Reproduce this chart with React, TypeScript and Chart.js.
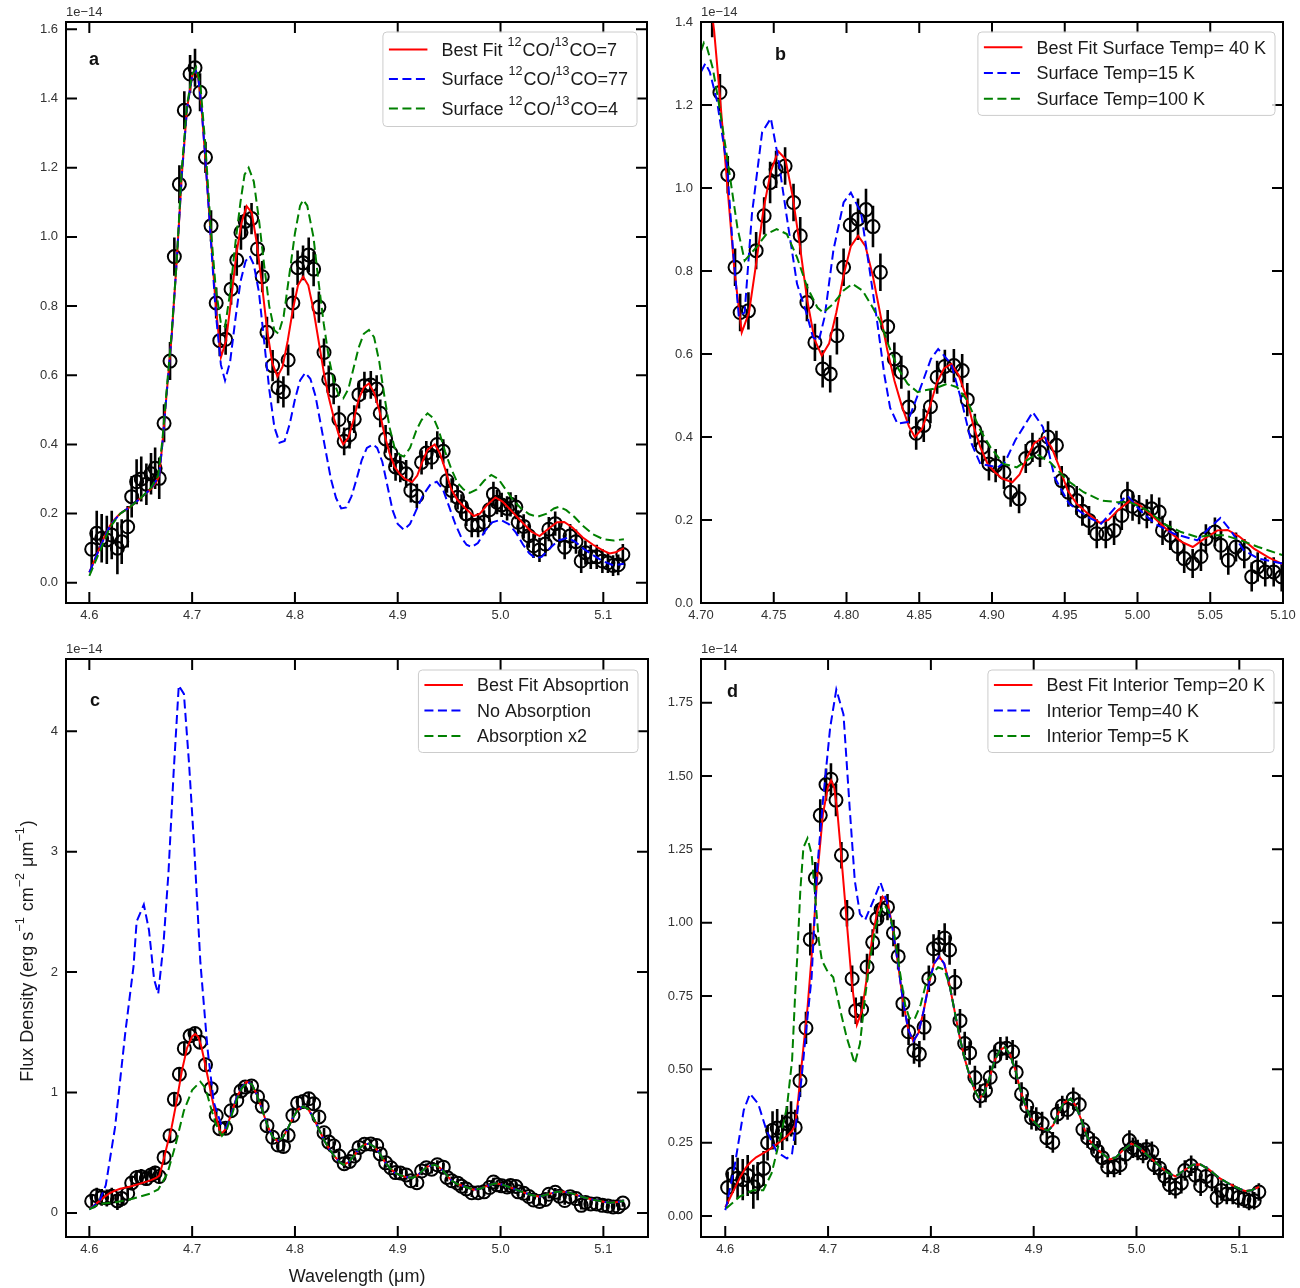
import React, { useEffect, useRef } from 'react';
import { Chart, registerables } from 'chart.js';

Chart.register(...registerables);

type Pt = [number, number];

// ---------------- observed spectrum (flux in 1e-14 erg s-1 cm-2 um-1) ----------------
const obsWave = [
  4.6023, 4.6072, 4.6120, 4.6170, 4.6218, 4.6273, 4.6315, 4.6373, 4.6412, 4.6460,
  4.6505, 4.6555, 4.6600, 4.6640, 4.6680, 4.6727, 4.6785, 4.6827, 4.6876, 4.6924,
  4.6980, 4.7028, 4.7077,
  4.7130, 4.7184, 4.7234, 4.7269, 4.7326, 4.7379, 4.7434, 4.7475, 4.7516, 4.7578,
  4.7636, 4.7682, 4.7728, 4.7783, 4.7836, 4.7888, 4.7934, 4.7980, 4.8026, 4.8079,
  4.8134, 4.8182, 4.8233, 4.8283, 4.8329, 4.8377, 4.8428, 4.8479, 4.8531, 4.8577,
  4.8623, 4.8676, 4.8738, 4.8795, 4.8830, 4.8882, 4.8933, 4.8979, 4.9025, 4.9082,
  4.9128, 4.9186, 4.9232, 4.9278, 4.9330, 4.9385, 4.9443, 4.9479, 4.9525, 4.9582,
  4.9621, 4.9667, 4.9720, 4.9782, 4.9839, 4.9892, 4.9931, 4.9966, 5.0011, 5.0064,
  5.0097, 5.0149, 5.0172, 5.0225, 5.0275, 5.0321, 5.0379, 5.0436, 5.0470, 5.0532,
  5.0573, 5.0624, 5.0677, 5.0734, 5.0785, 5.0826, 5.0878, 5.0936, 5.0991,
  5.1045, 5.1095, 5.1145, 5.1190,
];
const obsFlux = [
  0.097, 0.143, 0.129, 0.124, 0.138, 0.100, 0.119, 0.162, 0.249, 0.292,
  0.300, 0.285, 0.315, 0.331, 0.302, 0.461, 0.641, 0.943, 1.152, 1.366,
  1.471, 1.489, 1.418,
  1.230, 1.032, 0.809, 0.700, 0.704, 0.849, 0.933, 1.013, 1.045, 1.053,
  0.965, 0.885, 0.724, 0.628, 0.564, 0.552, 0.644, 0.809, 0.911, 0.925,
  0.948, 0.907, 0.797, 0.666, 0.588, 0.556, 0.472, 0.409, 0.428, 0.473,
  0.544, 0.570, 0.572, 0.560, 0.490, 0.416, 0.375, 0.335, 0.331, 0.315,
  0.267, 0.251, 0.348, 0.375, 0.363, 0.400, 0.380, 0.295, 0.267, 0.247,
  0.221, 0.199, 0.167, 0.167, 0.175, 0.211, 0.257, 0.233, 0.225, 0.215,
  0.227, 0.219, 0.175, 0.163, 0.136, 0.107, 0.095, 0.112, 0.155, 0.171,
  0.139, 0.103, 0.135, 0.119, 0.063, 0.087, 0.075, 0.075, 0.063,
  0.058, 0.050, 0.052, 0.082,
];
const obsErr = [
  0.055, 0.065, 0.070, 0.070, 0.070, 0.075, 0.065, 0.060, 0.060, 0.065,
  0.065, 0.060, 0.060, 0.060, 0.060, 0.055, 0.055, 0.055, 0.055, 0.055,
  0.055, 0.055, 0.055,
  0.045, 0.045, 0.045, 0.045, 0.045, 0.045, 0.045, 0.050, 0.045, 0.045,
  0.045, 0.045, 0.045, 0.045, 0.045, 0.045, 0.045, 0.045, 0.050, 0.050,
  0.050, 0.050, 0.045, 0.040, 0.040, 0.040, 0.040, 0.040, 0.040, 0.040,
  0.040, 0.040, 0.040, 0.040, 0.040, 0.040, 0.040, 0.040, 0.040, 0.040,
  0.035, 0.035, 0.035, 0.035, 0.035, 0.038, 0.035, 0.035, 0.035, 0.035,
  0.035, 0.035, 0.035, 0.035, 0.035, 0.035, 0.035, 0.035, 0.035, 0.035,
  0.035, 0.035, 0.035, 0.035, 0.035, 0.035, 0.035, 0.035, 0.035, 0.035,
  0.035, 0.035, 0.035, 0.035, 0.035, 0.035, 0.035, 0.035, 0.035,
  0.030, 0.030, 0.030, 0.030,
];

// ---------------- best-fit model (shown in all panels) ----------------
const bestFit: Pt[] = [
  [4.600, 0.030], [4.605, 0.065], [4.610, 0.100], [4.615, 0.135], [4.620, 0.165], [4.625, 0.185],
  [4.630, 0.200], [4.635, 0.210], [4.640, 0.220], [4.645, 0.232], [4.650, 0.245], [4.655, 0.258],
  [4.660, 0.272], [4.665, 0.290], [4.668, 0.310], [4.671, 0.400], [4.675, 0.540], [4.680, 0.710],
  [4.685, 0.930], [4.690, 1.180], [4.695, 1.370], [4.700, 1.465], [4.703, 1.485], [4.706, 1.460],
  [4.709, 1.380], [4.713, 1.220], [4.718, 1.010], [4.723, 0.800], [4.728, 0.652], [4.733, 0.700],
  [4.738, 0.820], [4.743, 0.950], [4.748, 1.040], [4.753, 1.089], [4.758, 1.070], [4.763, 0.980],
  [4.768, 0.860], [4.773, 0.730], [4.778, 0.635], [4.783, 0.596], [4.788, 0.625], [4.793, 0.700],
  [4.798, 0.790], [4.803, 0.860], [4.808, 0.885], [4.813, 0.860], [4.818, 0.790], [4.823, 0.700],
  [4.828, 0.610], [4.833, 0.535], [4.838, 0.475], [4.843, 0.425], [4.847, 0.400], [4.852, 0.420],
  [4.857, 0.470], [4.862, 0.530], [4.867, 0.565], [4.872, 0.576], [4.877, 0.550], [4.882, 0.500],
  [4.887, 0.430], [4.892, 0.375], [4.897, 0.335], [4.902, 0.315], [4.907, 0.300], [4.914, 0.291],
  [4.919, 0.310], [4.924, 0.350], [4.929, 0.385], [4.936, 0.400], [4.941, 0.375], [4.946, 0.330],
  [4.952, 0.271], [4.958, 0.240], [4.966, 0.215], [4.974, 0.193], [4.980, 0.200], [4.987, 0.225],
  [4.995, 0.247], [5.002, 0.235], [5.010, 0.210], [5.021, 0.175], [5.030, 0.148], [5.038, 0.135],
  [5.046, 0.155], [5.055, 0.175], [5.062, 0.176], [5.070, 0.160], [5.080, 0.131], [5.090, 0.110],
  [5.100, 0.093], [5.106, 0.085], [5.112, 0.088], [5.120, 0.100],
];

// ---------------- panel a: 12CO/13CO ratio ----------------
const aRatio77: Pt[] = [
  [4.600, 0.030], [4.610, 0.100], [4.620, 0.165], [4.630, 0.200], [4.640, 0.220], [4.650, 0.245],
  [4.660, 0.272], [4.668, 0.310], [4.671, 0.400], [4.675, 0.540], [4.680, 0.710], [4.685, 0.930],
  [4.690, 1.180], [4.695, 1.370], [4.700, 1.465], [4.703, 1.485], [4.706, 1.460], [4.709, 1.380],
  [4.713, 1.220], [4.718, 1.000], [4.723, 0.780], [4.728, 0.630], [4.732, 0.585], [4.737, 0.640],
  [4.742, 0.760], [4.747, 0.870], [4.752, 0.930], [4.756, 0.945], [4.760, 0.920], [4.765, 0.840],
  [4.770, 0.700], [4.775, 0.560], [4.780, 0.450], [4.785, 0.405], [4.790, 0.410], [4.795, 0.460],
  [4.800, 0.530], [4.805, 0.585], [4.810, 0.607], [4.815, 0.590], [4.820, 0.540], [4.825, 0.460],
  [4.830, 0.380], [4.835, 0.300], [4.840, 0.245], [4.845, 0.215], [4.850, 0.218], [4.855, 0.250],
  [4.860, 0.300], [4.865, 0.355], [4.870, 0.390], [4.876, 0.400], [4.880, 0.390], [4.885, 0.350],
  [4.890, 0.280], [4.895, 0.210], [4.900, 0.170], [4.906, 0.153], [4.912, 0.170], [4.918, 0.210],
  [4.925, 0.255], [4.932, 0.285], [4.938, 0.292], [4.944, 0.270], [4.950, 0.220], [4.956, 0.170],
  [4.962, 0.130], [4.967, 0.110], [4.972, 0.103], [4.978, 0.115], [4.985, 0.150], [4.992, 0.175],
  [5.000, 0.182], [5.008, 0.170], [5.015, 0.145], [5.022, 0.110], [5.028, 0.085], [5.034, 0.071],
  [5.040, 0.075], [5.048, 0.100], [5.056, 0.122], [5.065, 0.130], [5.072, 0.120], [5.080, 0.100],
  [5.090, 0.080], [5.100, 0.062], [5.110, 0.050], [5.120, 0.055],
];
const aRatio4: Pt[] = [
  [4.600, 0.020], [4.610, 0.090], [4.620, 0.160], [4.630, 0.200], [4.640, 0.220], [4.650, 0.245],
  [4.660, 0.275], [4.667, 0.310], [4.671, 0.410], [4.675, 0.550], [4.680, 0.720], [4.685, 0.930],
  [4.690, 1.200], [4.695, 1.380], [4.700, 1.470], [4.704, 1.490], [4.708, 1.440], [4.713, 1.260],
  [4.718, 1.030], [4.723, 0.850], [4.728, 0.750], [4.732, 0.740], [4.737, 0.840], [4.742, 0.980],
  [4.747, 1.100], [4.751, 1.180], [4.755, 1.200], [4.760, 1.160], [4.765, 1.050], [4.770, 0.920],
  [4.775, 0.800], [4.780, 0.730], [4.784, 0.720], [4.789, 0.770], [4.795, 0.900], [4.800, 1.010],
  [4.805, 1.090], [4.808, 1.107], [4.812, 1.090], [4.818, 1.000], [4.823, 0.870], [4.828, 0.750],
  [4.833, 0.650], [4.838, 0.580], [4.843, 0.540], [4.847, 0.533], [4.852, 0.560], [4.857, 0.620],
  [4.862, 0.680], [4.867, 0.720], [4.872, 0.731], [4.877, 0.710], [4.882, 0.640], [4.887, 0.540],
  [4.892, 0.450], [4.897, 0.390], [4.902, 0.370], [4.906, 0.365], [4.912, 0.390], [4.918, 0.440],
  [4.923, 0.470], [4.929, 0.490], [4.935, 0.475], [4.940, 0.440], [4.946, 0.380], [4.952, 0.330],
  [4.958, 0.290], [4.964, 0.270], [4.970, 0.260], [4.977, 0.270], [4.984, 0.295], [4.991, 0.312],
  [4.998, 0.300], [5.005, 0.270], [5.012, 0.240], [5.020, 0.215], [5.028, 0.198], [5.036, 0.191],
  [5.045, 0.200], [5.052, 0.215], [5.057, 0.220], [5.064, 0.210], [5.072, 0.190], [5.080, 0.165],
  [5.090, 0.140], [5.100, 0.126], [5.110, 0.122], [5.120, 0.126],
];

// ---------------- panel b: surface temperature ----------------
const bTemp15: Pt[] = [
  [4.700, 1.280], [4.703, 1.300], [4.706, 1.280], [4.711, 1.210], [4.718, 1.050], [4.722, 0.850],
  [4.726, 0.690], [4.730, 0.700], [4.735, 0.937], [4.742, 1.134], [4.748, 1.168], [4.753, 1.073],
  [4.759, 0.929], [4.766, 0.769], [4.772, 0.704], [4.777, 0.640], [4.781, 0.632], [4.785, 0.690],
  [4.791, 0.850], [4.798, 0.965], [4.803, 0.989], [4.810, 0.940], [4.816, 0.800], [4.821, 0.680],
  [4.826, 0.550], [4.830, 0.470], [4.835, 0.432], [4.842, 0.436], [4.851, 0.520], [4.858, 0.588],
  [4.863, 0.612], [4.872, 0.576], [4.879, 0.488], [4.886, 0.384], [4.892, 0.335], [4.904, 0.327],
  [4.909, 0.340], [4.916, 0.392], [4.928, 0.460], [4.935, 0.424], [4.943, 0.303], [4.953, 0.239],
  [4.966, 0.207], [4.975, 0.191], [4.989, 0.247], [4.993, 0.259], [5.002, 0.223], [5.012, 0.191],
  [5.025, 0.167], [5.041, 0.151], [5.050, 0.183], [5.057, 0.205], [5.064, 0.175], [5.073, 0.127],
  [5.083, 0.107], [5.100, 0.095],
];
const bTemp100: Pt[] = [
  [4.700, 1.330], [4.702, 1.350], [4.704, 1.340], [4.708, 1.290], [4.712, 1.210], [4.718, 1.073],
  [4.725, 0.905], [4.730, 0.825], [4.738, 0.857], [4.745, 0.889], [4.752, 0.901], [4.759, 0.889],
  [4.766, 0.833], [4.773, 0.761], [4.780, 0.712], [4.784, 0.700], [4.791, 0.721], [4.798, 0.753],
  [4.804, 0.769], [4.811, 0.753], [4.818, 0.712], [4.823, 0.680], [4.829, 0.620], [4.835, 0.568],
  [4.842, 0.528], [4.849, 0.508], [4.853, 0.512], [4.860, 0.516], [4.869, 0.528], [4.876, 0.520],
  [4.883, 0.488], [4.892, 0.416], [4.899, 0.375], [4.908, 0.335], [4.917, 0.327], [4.927, 0.351],
  [4.931, 0.358], [4.940, 0.339], [4.952, 0.295], [4.963, 0.267], [4.975, 0.247], [4.986, 0.243],
  [4.995, 0.243], [5.007, 0.223], [5.018, 0.191], [5.030, 0.171], [5.041, 0.159], [5.050, 0.163],
  [5.060, 0.163], [5.071, 0.151], [5.083, 0.135], [5.100, 0.115],
];

// ---------------- panel c: absorption ----------------
const cNoAbsorption: Pt[] = [
  [4.600, 0.030], [4.602, 0.041], [4.610, 0.100], [4.616, 0.230], [4.625, 0.710], [4.635, 1.500],
  [4.643, 2.050], [4.646, 2.420], [4.653, 2.560], [4.658, 2.350], [4.663, 1.940], [4.667, 1.820],
  [4.672, 2.220], [4.677, 2.830], [4.682, 3.660], [4.687, 4.380], [4.692, 4.310], [4.697, 3.730],
  [4.702, 3.040], [4.708, 2.080], [4.715, 1.360], [4.721, 0.920], [4.728, 0.740], [4.733, 0.705],
  [4.738, 0.820], [4.743, 0.950], [4.748, 1.040], [4.753, 1.089], [4.758, 1.070], [4.763, 0.980],
  [4.768, 0.860], [4.773, 0.730], [4.778, 0.635], [4.783, 0.596], [4.788, 0.625], [4.793, 0.700],
  [4.798, 0.790], [4.803, 0.860], [4.808, 0.885], [4.813, 0.860], [4.818, 0.790], [4.823, 0.700],
  [4.828, 0.610], [4.833, 0.535], [4.838, 0.475], [4.843, 0.425], [4.847, 0.400], [4.852, 0.420],
  [4.857, 0.470], [4.862, 0.530], [4.867, 0.565], [4.872, 0.576], [4.877, 0.550], [4.882, 0.500],
  [4.887, 0.430], [4.892, 0.375], [4.897, 0.335], [4.902, 0.315], [4.907, 0.300], [4.914, 0.291],
  [4.919, 0.310], [4.924, 0.350], [4.929, 0.385], [4.936, 0.400], [4.941, 0.375], [4.946, 0.330],
  [4.952, 0.271], [4.958, 0.240], [4.966, 0.215], [4.974, 0.193], [4.980, 0.200], [4.987, 0.225],
  [4.995, 0.247], [5.002, 0.235], [5.010, 0.210], [5.021, 0.175], [5.030, 0.148], [5.038, 0.135],
  [5.046, 0.155], [5.055, 0.175], [5.062, 0.176], [5.070, 0.160], [5.080, 0.131], [5.090, 0.110],
  [5.100, 0.093], [5.106, 0.085], [5.112, 0.088], [5.120, 0.100],
];
const cAbsorptionX2: Pt[] = [
  [4.600, 0.030], [4.610, 0.075], [4.627, 0.090], [4.643, 0.120], [4.659, 0.160], [4.667, 0.195],
  [4.676, 0.330], [4.684, 0.570], [4.692, 0.850], [4.700, 1.020], [4.708, 1.090], [4.713, 1.035],
  [4.718, 0.880], [4.723, 0.740], [4.729, 0.640], [4.734, 0.700], [4.738, 0.800], [4.743, 0.930],
  [4.748, 1.030], [4.753, 1.080], [4.758, 1.070], [4.763, 0.980], [4.768, 0.860], [4.773, 0.730],
  [4.778, 0.635], [4.783, 0.596], [4.788, 0.625], [4.793, 0.700], [4.798, 0.790], [4.803, 0.860],
  [4.808, 0.885], [4.813, 0.860], [4.818, 0.790], [4.823, 0.700], [4.828, 0.610], [4.833, 0.535],
  [4.838, 0.475], [4.843, 0.425], [4.847, 0.400], [4.852, 0.420], [4.857, 0.470], [4.862, 0.530],
  [4.867, 0.565], [4.872, 0.576], [4.877, 0.550], [4.882, 0.500], [4.887, 0.430], [4.892, 0.375],
  [4.897, 0.335], [4.902, 0.315], [4.907, 0.300], [4.914, 0.291], [4.919, 0.310], [4.924, 0.350],
  [4.929, 0.385], [4.936, 0.400], [4.941, 0.375], [4.946, 0.330], [4.952, 0.271], [4.958, 0.240],
  [4.966, 0.215], [4.974, 0.193], [4.980, 0.200], [4.987, 0.225], [4.995, 0.247], [5.002, 0.235],
  [5.010, 0.210], [5.021, 0.175], [5.030, 0.148], [5.038, 0.135], [5.046, 0.155], [5.055, 0.175],
  [5.062, 0.176], [5.070, 0.160], [5.080, 0.131], [5.090, 0.110], [5.100, 0.093], [5.106, 0.085],
  [5.112, 0.088], [5.120, 0.100],
];

// ---------------- panel d: interior temperature ----------------
const dInterior40: Pt[] = [
  [4.600, 0.020], [4.601, 0.032], [4.609, 0.168], [4.618, 0.361], [4.624, 0.417], [4.632, 0.383],
  [4.640, 0.293], [4.650, 0.219], [4.660, 0.196], [4.665, 0.213], [4.670, 0.349], [4.674, 0.463],
  [4.679, 0.644], [4.684, 0.814], [4.689, 1.166], [4.695, 1.415], [4.702, 1.664], [4.708, 1.795],
  [4.715, 1.710], [4.721, 1.392], [4.726, 1.143], [4.731, 1.030], [4.736, 1.009], [4.744, 1.075],
  [4.751, 1.137], [4.757, 1.075], [4.763, 0.973], [4.768, 0.860], [4.773, 0.730], [4.778, 0.635],
  [4.783, 0.596], [4.788, 0.625], [4.793, 0.700], [4.798, 0.790], [4.803, 0.860], [4.808, 0.885],
  [4.813, 0.860], [4.818, 0.790], [4.823, 0.700], [4.828, 0.610], [4.833, 0.535], [4.838, 0.475],
  [4.843, 0.425], [4.847, 0.400], [4.852, 0.420], [4.857, 0.470], [4.862, 0.530], [4.867, 0.565],
  [4.872, 0.576], [4.877, 0.550], [4.882, 0.500], [4.887, 0.430], [4.892, 0.375], [4.897, 0.335],
  [4.902, 0.315], [4.907, 0.300], [4.914, 0.291], [4.919, 0.310], [4.924, 0.350], [4.929, 0.385],
  [4.936, 0.400], [4.941, 0.375], [4.946, 0.330], [4.952, 0.271], [4.958, 0.240], [4.966, 0.215],
  [4.974, 0.193], [4.980, 0.200], [4.987, 0.225], [4.995, 0.247], [5.002, 0.235], [5.010, 0.210],
  [5.021, 0.175], [5.030, 0.148], [5.038, 0.135], [5.046, 0.155], [5.055, 0.175], [5.062, 0.176],
  [5.070, 0.160], [5.080, 0.131], [5.090, 0.110], [5.100, 0.093], [5.106, 0.085], [5.112, 0.088],
  [5.120, 0.100],
];
const dInterior5: Pt[] = [
  [4.601, 0.026], [4.614, 0.066], [4.627, 0.088], [4.637, 0.088], [4.645, 0.145], [4.653, 0.259],
  [4.660, 0.372], [4.665, 0.531], [4.668, 0.757], [4.670, 0.882], [4.673, 1.109], [4.676, 1.256],
  [4.680, 1.288], [4.684, 1.234], [4.687, 1.109], [4.691, 0.939], [4.694, 0.871], [4.699, 0.837],
  [4.705, 0.814], [4.712, 0.700], [4.718, 0.610], [4.726, 0.519], [4.731, 0.587], [4.736, 0.746],
  [4.741, 0.880], [4.746, 0.980], [4.751, 1.040], [4.755, 1.060], [4.760, 1.030], [4.765, 0.950],
  [4.770, 0.830], [4.775, 0.720], [4.779, 0.675], [4.784, 0.670], [4.790, 0.720], [4.796, 0.803],
  [4.807, 0.848], [4.813, 0.840], [4.818, 0.790], [4.823, 0.700], [4.828, 0.610], [4.833, 0.535],
  [4.838, 0.475], [4.843, 0.425], [4.847, 0.400], [4.852, 0.420], [4.857, 0.470], [4.862, 0.530],
  [4.867, 0.565], [4.872, 0.576], [4.877, 0.550], [4.882, 0.500], [4.887, 0.430], [4.892, 0.375],
  [4.897, 0.335], [4.902, 0.315], [4.907, 0.300], [4.914, 0.291], [4.919, 0.310], [4.924, 0.350],
  [4.929, 0.385], [4.936, 0.400], [4.941, 0.375], [4.946, 0.330], [4.952, 0.271], [4.958, 0.240],
  [4.966, 0.215], [4.974, 0.193], [4.980, 0.200], [4.987, 0.225], [4.995, 0.247], [5.002, 0.235],
  [5.010, 0.210], [5.021, 0.175], [5.030, 0.148], [5.038, 0.135], [5.046, 0.155], [5.055, 0.175],
  [5.062, 0.176], [5.070, 0.160], [5.080, 0.131], [5.090, 0.110], [5.100, 0.093], [5.106, 0.085],
  [5.112, 0.088], [5.120, 0.100],
];

// ---------------- tick labels ----------------
const xTicksWide = [4.6, 4.7, 4.8, 4.9, 5.0, 5.1];
const xTicksB = [4.70, 4.75, 4.80, 4.85, 4.90, 4.95, 5.00, 5.05, 5.10];
const yTicksA = [0, 0.2, 0.4, 0.6, 0.8, 1.0, 1.2, 1.4, 1.6];
const yTicksB = [0, 0.2, 0.4, 0.6, 0.8, 1.0, 1.2, 1.4];
const yTicksC = [0, 1, 2, 3, 4];
const yTicksD = [0, 0.25, 0.5, 0.75, 1.0, 1.25, 1.5, 1.75];

const legendA = ['Best Fit ¹²CO/¹³CO=7', 'Surface ¹²CO/¹³CO=77', 'Surface ¹²CO/¹³CO=4'];
const legendB = ['Best Fit Surface Temp= 40 K', 'Surface Temp=15 K', 'Surface Temp=100 K'];
const legendC = ['Best Fit Absoprtion', 'No Absorption', 'Absorption x2'];
const legendD = ['Best Fit Interior Temp=20 K', 'Interior Temp=40 K', 'Interior Temp=5 K'];

const xAxisTitle = 'Wavelength (μm)';
const yAxisTitle = 'Flux Density (erg s⁻¹ cm⁻² μm⁻¹)';

// ---------------- rendering helpers ----------------
const FAMILY = '"Liberation Sans", Arial, Helvetica, sans-serif';
const fontStr = (size: number, weight = 'normal') => `${weight} ${size}px ${FAMILY}`;
const SUP: Record<string, string> = {
  '⁰': '0', '¹': '1', '²': '2', '³': '3', '⁴': '4', '⁵': '5', '⁶': '6', '⁷': '7', '⁸': '8', '⁹': '9', '⁻': '−',
};
function segments(text: string) {
  const out: { t: string; sup: boolean }[] = [];
  for (const ch of text) {
    const sup = ch in SUP;
    const c = sup ? SUP[ch] : ch;
    const last = out[out.length - 1];
    if (last && last.sup === sup) last.t += c;
    else out.push({ t: c, sup });
  }
  return out;
}
function richWidth(ctx: CanvasRenderingContext2D, text: string, fs: number) {
  let w = 0;
  for (const s of segments(text)) {
    ctx.font = fontStr(s.sup ? fs * 0.7 : fs);
    w += ctx.measureText(s.t).width + (s.sup ? 1 : 0);
  }
  return w;
}
function drawRich(ctx: CanvasRenderingContext2D, text: string, x: number, yc: number, fs: number, color: string, center: boolean) {
  const w = richWidth(ctx, text, fs);
  let cx = center ? x - w / 2 : x;
  const base = yc + 0.358 * fs;
  ctx.fillStyle = color;
  ctx.textAlign = 'left';
  ctx.textBaseline = 'alphabetic';
  for (const s of segments(text)) {
    ctx.font = fontStr(s.sup ? fs * 0.7 : fs);
    ctx.fillText(s.t, cx, s.sup ? base - 0.55 * fs : base);
    cx += ctx.measureText(s.t).width + (s.sup ? 1 : 0);
  }
}

interface PanelCfg {
  id: string;
  left: number; top: number; width: number; height: number;
  yAxisWidth: number; xAxisHeight: number; padTop: number; padRight: number;
  xMin: number; xMax: number; yMin: number; yMax: number;
  xTicks: number[]; yTicks: number[]; xDec: number; yDec: number;
  letter: string; letterDx: number; letterDy: number;
  labels: string[]; model2: Pt[]; model3: Pt[];
  legRight: number; legTop: number; rowSpacing: number;
}

const PANELS: PanelCfg[] = [
  {
    id: 'a', left: 0, top: 0, width: 650, height: 640,
    yAxisWidth: 66, xAxisHeight: 37, padTop: 22, padRight: 3,
    xMin: 4.5773, xMax: 5.1425, yMin: -0.0584, yMax: 1.6213,
    xTicks: xTicksWide, yTicks: yTicksA, xDec: 1, yDec: 1,
    letter: 'a', letterDx: 23, letterDy: 43,
    labels: legendA, model2: aRatio77, model3: aRatio4,
    legRight: 10, legTop: 10, rowSpacing: 29.5,
  },
  {
    id: 'b', left: 650, top: 0, width: 650, height: 640,
    yAxisWidth: 51, xAxisHeight: 37, padTop: 22, padRight: 17,
    xMin: 4.70, xMax: 5.10, yMin: 0, yMax: 1.4,
    xTicks: xTicksB, yTicks: yTicksB, xDec: 2, yDec: 1,
    letter: 'b', letterDx: 74, letterDy: 38,
    labels: legendB, model2: bTemp15, model3: bTemp100,
    legRight: 8, legTop: 10, rowSpacing: 25.8,
  },
  {
    id: 'c', left: 0, top: 640, width: 650, height: 648,
    yAxisWidth: 66, xAxisHeight: 51, padTop: 19, padRight: 2,
    xMin: 4.5773, xMax: 5.1434, yMin: -0.2, yMax: 4.6,
    xTicks: xTicksWide, yTicks: yTicksC, xDec: 1, yDec: 0,
    letter: 'c', letterDx: 24, letterDy: 47,
    labels: legendC, model2: cNoAbsorption, model3: cAbsorptionX2,
    legRight: 10, legTop: 11, rowSpacing: 25.5,
  },
  {
    id: 'd', left: 650, top: 640, width: 650, height: 648,
    yAxisWidth: 51, xAxisHeight: 51, padTop: 19, padRight: 17,
    xMin: 4.5764, xMax: 5.1425, yMin: -0.0716, yMax: 1.899,
    xTicks: xTicksWide, yTicks: yTicksD, xDec: 1, yDec: 2,
    letter: 'd', letterDx: 26, letterDy: 38,
    labels: legendD, model2: dInterior40, model3: dInterior5,
    legRight: 9, legTop: 11, rowSpacing: 25.5,
  },
];

const DASH = [9, 4.5];

function buildChart(canvas: HTMLCanvasElement, cfg: PanelCfg) {
  const toXY = (arr: Pt[]) => arr.map(([x, y]) => ({ x, y }));
  const decor = {
    id: 'decor' + cfg.id,
    beforeDatasetsDraw(chart: any) {
      const ctx: CanvasRenderingContext2D = chart.ctx;
      const a = chart.chartArea;
      const xs = chart.scales.x, ys = chart.scales.y;
      ctx.save();
      ctx.beginPath();
      ctx.rect(a.left, a.top, a.right - a.left, a.bottom - a.top);
      ctx.clip();
      ctx.strokeStyle = '#000';
      ctx.lineWidth = 2.6;
      ctx.setLineDash([]);
      ctx.beginPath();
      for (let i = 0; i < obsWave.length; i++) {
        const px = xs.getPixelForValue(obsWave[i]);
        ctx.moveTo(px, ys.getPixelForValue(obsFlux[i] - obsErr[i]));
        ctx.lineTo(px, ys.getPixelForValue(obsFlux[i] + obsErr[i]));
      }
      ctx.stroke();
      ctx.restore();
    },
    afterDraw(chart: any) {
      const ctx: CanvasRenderingContext2D = chart.ctx;
      const a = chart.chartArea;
      const xs = chart.scales.x, ys = chart.scales.y;
      ctx.save();
      ctx.setLineDash([]);
      ctx.strokeStyle = '#000';
      ctx.lineWidth = 2;
      const TL = 11;
      ctx.beginPath();
      for (const v of cfg.xTicks) {
        const px = xs.getPixelForValue(v);
        ctx.moveTo(px, a.bottom); ctx.lineTo(px, a.bottom - TL);
        ctx.moveTo(px, a.top); ctx.lineTo(px, a.top + TL);
      }
      for (const v of cfg.yTicks) {
        const py = ys.getPixelForValue(v);
        ctx.moveTo(a.left, py); ctx.lineTo(a.left + TL, py);
        ctx.moveTo(a.right, py); ctx.lineTo(a.right - TL, py);
      }
      ctx.stroke();
      ctx.lineWidth = 2;
      ctx.strokeRect(a.left, a.top, a.right - a.left, a.bottom - a.top);

      // offset text
      ctx.font = fontStr(13);
      ctx.fillStyle = '#333';
      ctx.textAlign = 'left';
      ctx.textBaseline = 'alphabetic';
      ctx.fillText('1e−14', a.left, a.top - 6);

      // panel letter
      ctx.font = fontStr(18, 'bold');
      ctx.fillStyle = '#111';
      ctx.fillText(cfg.letter, a.left + cfg.letterDx, a.top + cfg.letterDy);

      // legend
      const fs = 18;
      const ds = chart.data.datasets.slice(0, 3);
      const tw = Math.max(...ds.map((d: any) => richWidth(ctx, d.label, fs)));
      const w = 58.5 + tw + 9;
      const rs = cfg.rowSpacing;
      const h = rs * 3 + 6;
      const right = a.right - cfg.legRight;
      const top = a.top + cfg.legTop;
      const left = right - w;
      ctx.beginPath();
      const r = 4;
      ctx.moveTo(left + r, top);
      ctx.arcTo(right, top, right, top + h, r);
      ctx.arcTo(right, top + h, left, top + h, r);
      ctx.arcTo(left, top + h, left, top, r);
      ctx.arcTo(left, top, right, top, r);
      ctx.closePath();
      ctx.fillStyle = 'rgba(255,255,255,0.8)';
      ctx.fill();
      ctx.strokeStyle = '#cccccc';
      ctx.lineWidth = 1;
      ctx.stroke();
      ds.forEach((d: any, i: number) => {
        const y = top + rs * 0.59 + i * rs;
        ctx.strokeStyle = d.borderColor;
        ctx.lineWidth = 2;
        ctx.setLineDash(d.borderDash || []);
        ctx.beginPath();
        ctx.moveTo(left + 6, y);
        ctx.lineTo(left + 44.5, y);
        ctx.stroke();
        ctx.setLineDash([]);
        drawRich(ctx, d.label, left + 58.5, y, fs, '#1a1a1a', false);
      });

      if (cfg.id === 'c') {
        drawRich(ctx, xAxisTitle, (a.left + a.right) / 2, 636, 18, '#1a1a1a', true);
        ctx.save();
        ctx.translate(27, (a.top + a.bottom) / 2 + 3);
        ctx.rotate(-Math.PI / 2);
        drawRich(ctx, yAxisTitle, 0, 0, 18, '#1a1a1a', true);
        ctx.restore();
      }
      ctx.restore();
    },
  };

  const tickFont = { family: FAMILY, size: 13 };
  return new Chart(canvas, {
    type: 'line',
    data: {
      datasets: [
        {
          label: cfg.labels[0], data: toXY(bestFit), borderColor: '#ff0000', borderWidth: 2,
          pointRadius: 0, fill: false, tension: 0, order: 3,
        },
        {
          label: cfg.labels[1], data: toXY(cfg.model2), borderColor: '#0000ff', borderWidth: 2,
          borderDash: DASH, pointRadius: 0, fill: false, tension: 0, order: 2,
        },
        {
          label: cfg.labels[2], data: toXY(cfg.model3), borderColor: '#008000', borderWidth: 2,
          borderDash: DASH, pointRadius: 0, fill: false, tension: 0, order: 1,
        },
        {
          label: 'Observed', data: obsWave.map((x, i) => ({ x, y: obsFlux[i] })),
          showLine: false, pointRadius: 6.5, pointStyle: 'circle', pointBorderWidth: 2,
          pointBorderColor: '#000', pointBackgroundColor: 'rgba(0,0,0,0)', borderColor: '#000', order: 4,
        },
      ],
    } as any,
    options: {
      animation: false,
      responsive: false,
      maintainAspectRatio: false,
      events: [],
      layout: { autoPadding: false, padding: { left: 0, top: cfg.padTop, right: cfg.padRight, bottom: 0 } },
      plugins: { legend: { display: false }, tooltip: { enabled: false } },
      scales: {
        x: {
          type: 'linear', min: cfg.xMin, max: cfg.xMax, bounds: 'data', offset: false,
          grid: { display: false, drawTicks: false },
          border: { display: false },
          afterBuildTicks: (s: any) => { s.ticks = cfg.xTicks.map((v) => ({ value: v })); },
          afterFit: (s: any) => {
            s.height = cfg.xAxisHeight;
            s.paddingLeft = 0; s.paddingRight = 0; s.paddingTop = 0; s.paddingBottom = 0;
          },
          ticks: {
            autoSkip: false, maxRotation: 0, minRotation: 0, padding: 5, color: '#333', font: tickFont,
            callback: (v: any) => Number(v).toFixed(cfg.xDec),
          },
        },
        y: {
          type: 'linear', min: cfg.yMin, max: cfg.yMax, bounds: 'data',
          grid: { display: false, drawTicks: false },
          border: { display: false },
          afterBuildTicks: (s: any) => { s.ticks = cfg.yTicks.map((v) => ({ value: v })); },
          afterFit: (s: any) => {
            s.width = cfg.yAxisWidth;
            s.paddingLeft = 0; s.paddingRight = 0; s.paddingTop = 0; s.paddingBottom = 0;
          },
          ticks: {
            autoSkip: false, padding: 8, color: '#333', font: tickFont,
            callback: (v: any) => Number(v).toFixed(cfg.yDec),
          },
        },
      },
    } as any,
    plugins: [decor as any],
  });
}

function Panel({ cfg }: { cfg: PanelCfg }) {
  const ref = useRef<HTMLCanvasElement>(null);
  useEffect(() => {
    if (!ref.current) return;
    const chart = buildChart(ref.current, cfg);
    return () => chart.destroy();
  }, [cfg]);
  return (
    <canvas
      ref={ref}
      width={cfg.width}
      height={cfg.height}
      style={{ position: 'absolute', left: cfg.left, top: cfg.top, width: cfg.width, height: cfg.height }}
    />
  );
}

export default function App() {
  return (
    <div style={{ position: 'absolute', left: 0, top: 0, width: 1300, height: 1288, background: '#ffffff', overflow: 'hidden' }}>
      {PANELS.map((p) => (
        <Panel key={p.id} cfg={p} />
      ))}
    </div>
  );
}
